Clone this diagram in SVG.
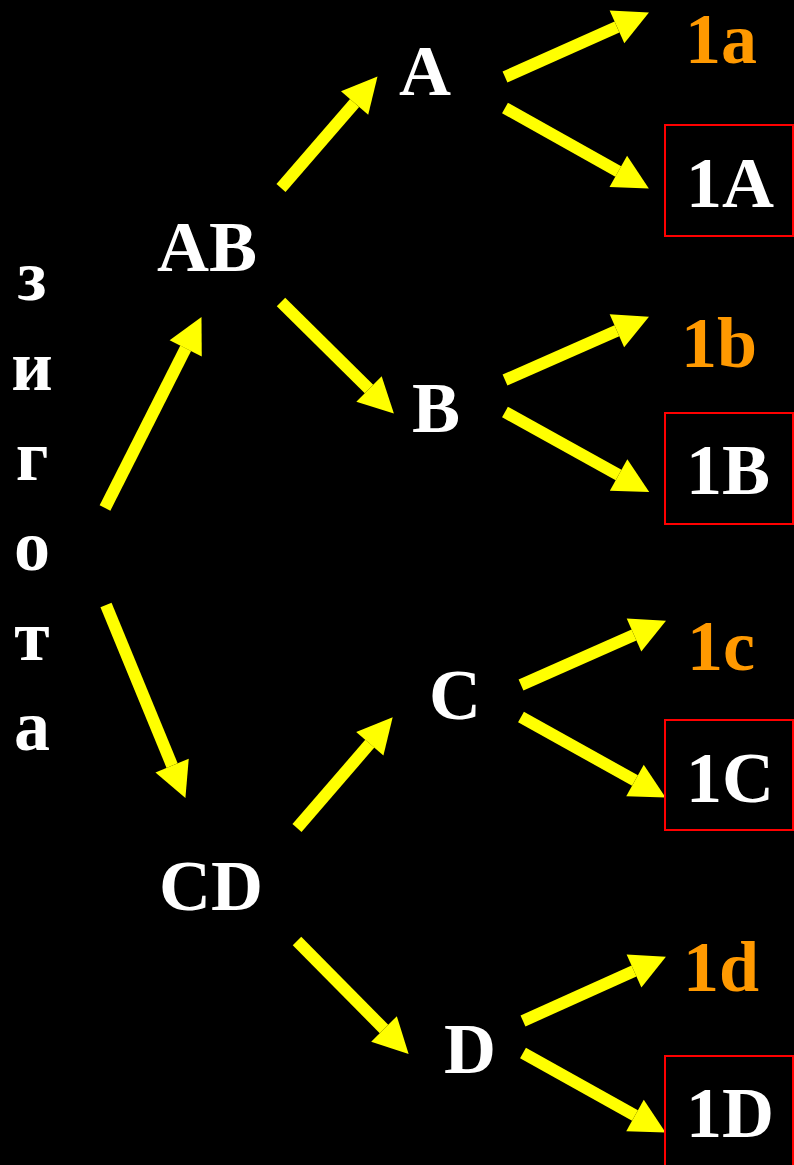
<svg xmlns="http://www.w3.org/2000/svg" width="794" height="1165" viewBox="0 0 794 1165">
<style>
.t{font-family:"Liberation Serif","Times New Roman",serif;font-weight:bold;font-size:72px;text-anchor:middle;fill:#FFFFFF}
.o{fill:#FF9900}
.ln{stroke:#FFFF00;stroke-width:12;fill:none;marker-end:url(#ah)}
.box{fill:none;stroke:#FF0000;stroke-width:2}
</style>
<defs>
<marker id="ah" markerUnits="userSpaceOnUse" markerWidth="40" markerHeight="44" viewBox="0 -22 36 44" refX="0" refY="0" orient="auto">
<path d="M0,-18 L35,0 L0,18 Z" fill="#FFFF00"/>
</marker>
</defs>
<rect x="0" y="0" width="794" height="1165" fill="#000000"/>
<g id="connectors">
<line class="ln" x1="105" y1="508" x2="185.7" y2="348.3"/>
<line class="ln" x1="106" y1="605" x2="172.1" y2="765.6"/>
<line class="ln" x1="281" y1="188" x2="354.6" y2="103.0"/>
<line class="ln" x1="281" y1="302" x2="369" y2="389"/>
<line class="ln" x1="505" y1="77" x2="617" y2="26.9"/>
<line class="ln" x1="505" y1="108" x2="618.3" y2="171.4"/>
<line class="ln" x1="505" y1="380" x2="616.9" y2="330.8"/>
<line class="ln" x1="505" y1="412" x2="618.6" y2="475"/>
<line class="ln" x1="297" y1="828" x2="369.8" y2="743.7"/>
<line class="ln" x1="297" y1="941" x2="384" y2="1029"/>
<line class="ln" x1="521" y1="685" x2="634" y2="635"/>
<line class="ln" x1="521" y1="717" x2="635" y2="780.5"/>
<line class="ln" x1="523" y1="1021" x2="634" y2="971"/>
<line class="ln" x1="523" y1="1053" x2="635" y2="1115.5"/>
</g>
<g id="zygota">
<text class="t" x="32" y="300">з</text>
<text class="t" x="32" y="390">и</text>
<text class="t" x="32" y="480">г</text>
<text class="t" x="32" y="570">о</text>
<text class="t" x="32" y="660">т</text>
<text class="t" x="32" y="750">а</text>
</g>
<g id="AB"><text class="t" x="207" y="271">AB</text></g>
<g id="CD"><text class="t" x="211" y="910">CD</text></g>
<g id="A"><text class="t" x="425" y="95">A</text></g>
<g id="B"><text class="t" x="436" y="432">B</text></g>
<g id="C"><text class="t" x="455" y="719">C</text></g>
<g id="D"><text class="t" x="470" y="1073">D</text></g>
<g id="n1a"><text class="t o" x="721" y="63">1a</text></g>
<g id="n1b"><text class="t o" x="719" y="367">1b</text></g>
<g id="n1c"><text class="t o" x="721" y="670">1c</text></g>
<g id="n1d"><text class="t o" x="721" y="991">1d</text></g>
<g id="n1A"><rect class="box" x="665" y="125" width="128" height="111"/><text class="t" x="730" y="207">1A</text></g>
<g id="n1B"><rect class="box" x="665" y="413" width="128" height="111"/><text class="t" x="728" y="494">1B</text></g>
<g id="n1C"><rect class="box" x="665" y="720" width="128" height="110"/><text class="t" x="730" y="802">1C</text></g>
<g id="n1D"><rect class="box" x="665" y="1056" width="128" height="120"/><text class="t" x="730" y="1137">1D</text></g>
</svg>
